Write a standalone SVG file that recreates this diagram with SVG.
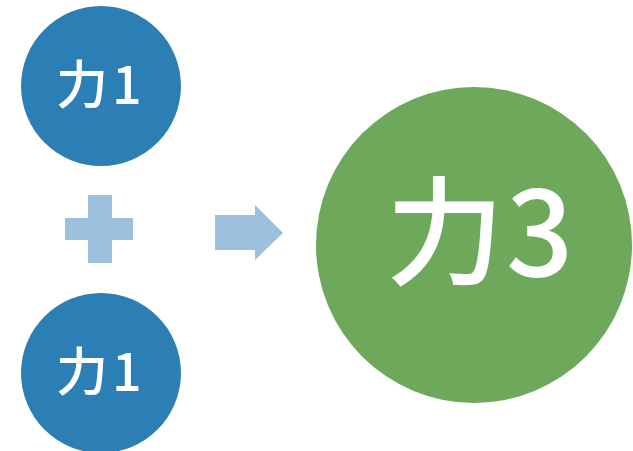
<svg xmlns="http://www.w3.org/2000/svg" width="633" height="451" viewBox="0 0 633 451">
<style>
.blue{fill:#2b7fb4}
.green{fill:#6ea95b}
.sym{fill:#9ec0df}
.t{fill:#ffffff;font-family:"Noto Sans CJK SC","Noto Sans",sans-serif;font-weight:500}
</style>
<rect width="633" height="451" fill="#ffffff"/>
<g id="force1-top">
<circle class="blue" cx="101" cy="86" r="80"/>
<text class="t" x="56" y="104" font-size="52" letter-spacing="4">力1</text>
</g>
<g id="force1-bottom">
<circle class="blue" cx="101" cy="373" r="80"/>
<text class="t" x="56" y="391" font-size="52" letter-spacing="4">力1</text>
</g>
<g id="plus">
<path class="sym" d="M88,195 H112 V218 H133 V240 H112 V263 H88 V240 H65 V218 H88 Z"/>
</g>
<g id="connectors">
<path class="sym" d="M215,215 H255 V205 L283,233 L255,260 V250 H215 Z"/>
</g>
<g id="force3">
<circle class="green" cx="474" cy="245" r="158"/>
<text class="t" x="386" y="276" font-size="118" letter-spacing="2">力3</text>
</g>
</svg>
